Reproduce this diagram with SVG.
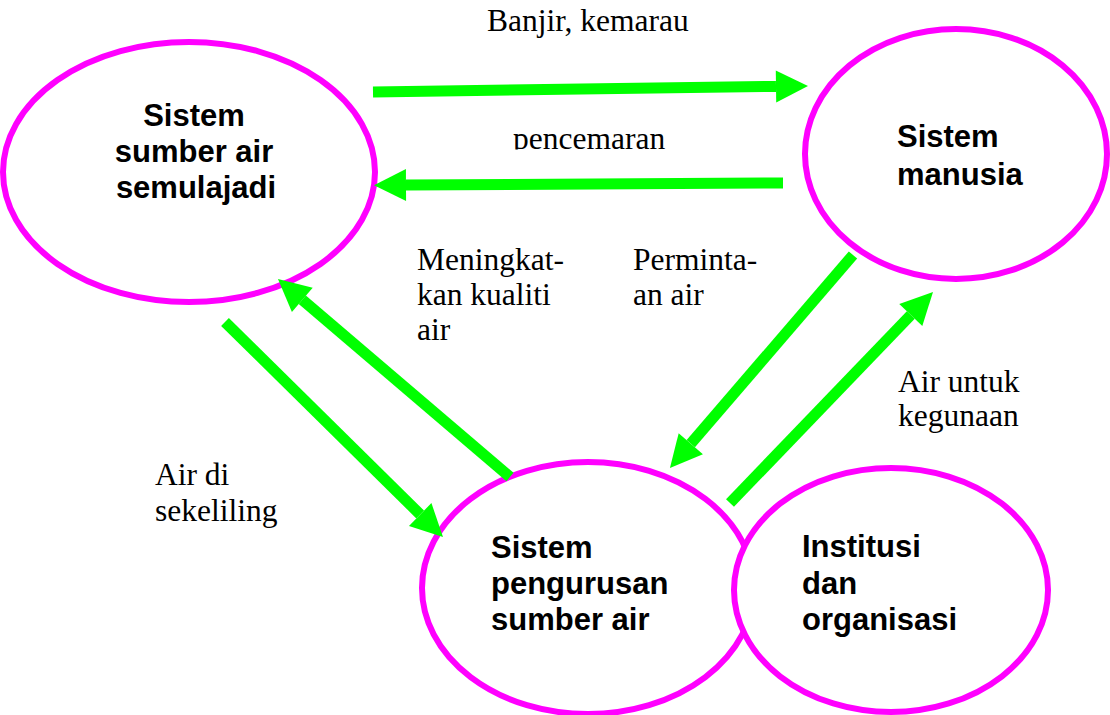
<svg xmlns="http://www.w3.org/2000/svg" width="1110" height="715" viewBox="0 0 1110 715">
<style>
.node{fill:#FFFFFF;stroke:#FF00FF;stroke-width:6}
.lbl{font-family:"Liberation Sans",Arial,sans-serif;font-weight:bold;font-size:31px;fill:#000}
.cap{font-family:"Liberation Serif","Times New Roman",serif;font-size:31.5px;fill:#000}
.arr{fill:none;stroke:#00FF00;stroke-width:11;marker-end:url(#head)}
</style>
<defs>
<marker id="head" markerUnits="userSpaceOnUse" markerWidth="34" markerHeight="34" refX="0" refY="16" orient="auto" overflow="visible">
<path d="M0,0 L32,16 L0,32 Z" fill="#00FF00"/>
</marker>
<clipPath id="clipPenc"><rect x="0" y="0" width="1110" height="149.5"/></clipPath>
</defs>
<rect width="1110" height="715" fill="#FFFFFF"/>
<g id="node-semulajadi">
<ellipse class="node" cx="189" cy="172" rx="186" ry="130"/>
<text class="lbl" text-anchor="middle"><tspan x="194" y="126">Sistem</tspan><tspan x="194" y="162">sumber air</tspan><tspan x="196" y="198">semulajadi</tspan></text>
</g>
<g id="node-manusia">
<ellipse class="node" cx="956" cy="154" rx="151" ry="125"/>
<text class="lbl"><tspan x="897" y="147">Sistem</tspan><tspan x="897" y="185">manusia</tspan></text>
</g>
<g id="node-pengurusan">
<ellipse class="node" cx="588" cy="588" rx="166" ry="126"/>
<text class="lbl"><tspan x="491" y="558">Sistem</tspan><tspan x="491" y="594">pengurusan</tspan><tspan x="491" y="630">sumber air</tspan></text>
</g>
<g id="node-institusi">
<ellipse class="node" cx="891" cy="590" rx="157" ry="122"/>
<text class="lbl"><tspan x="802" y="557">Institusi</tspan><tspan x="802" y="594">dan</tspan><tspan x="802" y="630">organisasi</tspan></text>
</g>
<g id="connectors">
<path class="arr" d="M373,92 L776,86.4"/>
<path class="arr" d="M783,183 L406,185"/>
<path class="arr" d="M510,477 L302.3,299.8"/>
<path class="arr" d="M225,322 L420.2,514.5"/>
<path class="arr" d="M853,255 L690.8,443.7"/>
<path class="arr" d="M730,503 L910.8,315"/>
</g>
<g id="labels">
<text class="cap" x="487" y="31">Banjir, kemarau</text>
<text class="cap" x="513" y="149" clip-path="url(#clipPenc)">pencemaran</text>
<text class="cap"><tspan x="417" y="270">Meningkat-</tspan><tspan x="417" y="305">kan kualiti</tspan><tspan x="417" y="340">air</tspan></text>
<text class="cap"><tspan x="633" y="270">Perminta-</tspan><tspan x="633" y="305">an air</tspan></text>
<text class="cap"><tspan x="155" y="485">Air di</tspan><tspan x="155" y="521">sekeliling</tspan></text>
<text class="cap"><tspan x="898" y="392">Air untuk</tspan><tspan x="898" y="426">kegunaan</tspan></text>
</g>
</svg>
